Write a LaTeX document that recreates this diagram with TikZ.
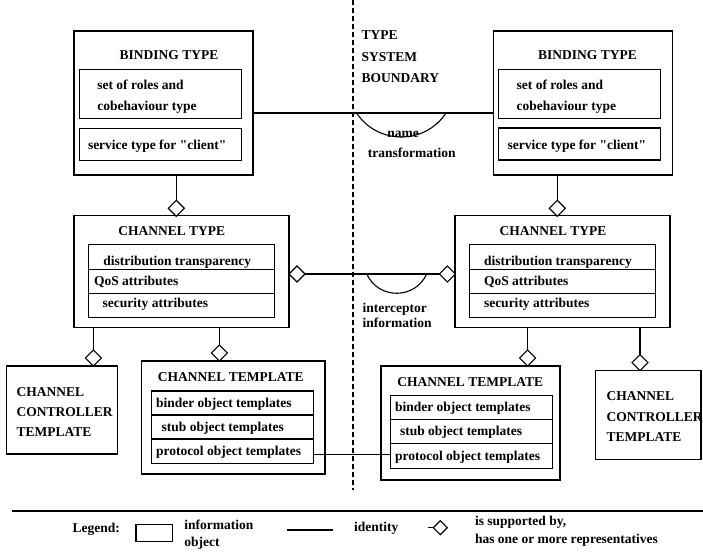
\documentclass[tikz,border=0pt]{standalone}
\usepackage{fontspec}
\setmainfont{Liberation Serif}
\usetikzlibrary{shapes.geometric}
\begin{document}
\begin{tikzpicture}[x=1pt,y=-1pt,
  every node/.style={inner sep=0pt, outer sep=0pt},
  box/.style={draw, line width=1.1pt, rectangle},
  txt/.style={font=\fontsize{13.5}{16}\selectfont\bfseries, anchor=west, text height=9pt, text depth=0pt},
  ctxt/.style={txt, anchor=center},
  dia/.style={draw, diamond, fill=white, line width=1.1pt, minimum width=16pt, minimum height=16pt},
  link/.style={line width=1.1pt},
  boundary/.style={line width=1.2pt, dash pattern=on 5pt off 3pt},
]
\useasboundingbox (0,0) rectangle (703,556);

% type system boundary
\coordinate (bndtop) at (353,0);
\coordinate (bndbot) at (353,490);
\draw[boundary] (bndtop) -- (bndbot);
\node[txt] (tsb1) at (361.7,35) {TYPE};
\node[txt] (tsb2) at (361.7,56.7) {SYSTEM};
\node[txt] (tsb3) at (361.7,78.3) {BOUNDARY};

% binding type left
\node[box, minimum width=179pt, minimum height=144pt] (bt1) at (163.5,103) {};
\node[ctxt] (bt1t) at (169,55) {BINDING TYPE};
\node[box, minimum width=162.4pt, minimum height=48.7pt] (bt1a) at (160.5,94.3) {};
\node[txt] (bt1a1) at (97.3,85) {set of roles and};
\node[txt] (bt1a2) at (97.3,106) {cobehaviour type};
\node[box, minimum width=162.4pt, minimum height=32.4pt] (bt1b) at (160.5,144.5) {};
\node[txt] (bt1b1) at (88,145) {service type for \textquotedbl client\textquotedbl};

% binding type right
\node[box, minimum width=179.7pt, minimum height=144pt] (bt2) at (582.9,103) {};
\node[ctxt] (bt2t) at (587.5,55) {BINDING TYPE};
\node[box, minimum width=162pt, minimum height=48.7pt] (bt2a) at (579.7,94.3) {};
\node[txt] (bt2a1) at (516.7,85) {set of roles and};
\node[txt] (bt2a2) at (516.7,106) {cobehaviour type};
\node[box, minimum width=162pt, minimum height=32pt] (bt2b) at (579.7,144) {};
\node[txt] (bt2b1) at (507.7,145) {service type for \textquotedbl client\textquotedbl};

% identity between binding types with name transformation
\coordinate (nty) at (0,113);
\draw[link] (bt1.east |- nty) -- (bt2.west |- nty);
\coordinate (nA) at (356.6,113);
\coordinate (nC) at (446,113);
\draw[link] (nA) .. controls (377.7,145) and (424.9,145) .. (nC);
\node[ctxt] (ntr1) at (403,133.3) {name};
\node[ctxt] (ntr2) at (411.7,152.7) {transformation};

% channel type left
\node[box, minimum width=215pt, minimum height=111.6pt] (ct1) at (181.5,271.5) {};
\node[ctxt] (ct1t) at (171.7,231) {CHANNEL TYPE};
\node[box, minimum width=186pt, minimum height=25pt] (ct1r1) at (181.3,256.8) {};
\node[box, minimum width=186pt, minimum height=24pt] (ct1r2) at (181.3,281.3) {};
\node[box, minimum width=186pt, minimum height=24pt] (ct1r3) at (181.3,305.3) {};
\node[txt] (ct1x1) at (103.3,260.7) {distribution transparency};
\node[txt] (ct1x2) at (94,281) {QoS attributes};
\node[txt] (ct1x3) at (102.7,302.7) {security attributes};

% channel type right
\node[box, minimum width=215pt, minimum height=111.6pt] (ct2) at (562.5,271.5) {};
\node[ctxt] (ct2t) at (553,231) {CHANNEL TYPE};
\node[box, minimum width=185.7pt, minimum height=25pt] (ct2r1) at (562.2,256.8) {};
\node[box, minimum width=185.7pt, minimum height=24pt] (ct2r2) at (562.2,281.3) {};
\node[box, minimum width=185.7pt, minimum height=24pt] (ct2r3) at (562.2,305.3) {};
\node[txt] (ct2x1) at (484,260.7) {distribution transparency};
\node[txt] (ct2x2) at (484,281) {QoS attributes};
\node[txt] (ct2x3) at (484,302.7) {security attributes};

% binding -> channel type
\node[dia] (d1) at (176.3,208.3) {};
\draw[link] (d1.north) -- (d1.north |- bt1.south);
\node[dia] (d2) at (557.3,208.3) {};
\draw[link] (d2.north) -- (d2.north |- bt2.south);

% channel types linked, interceptor information
\node[dia] (d3) at (297,274) {};
\node[dia] (d4) at (447.3,274) {};
\draw[link] (d3.east) -- (d4.west);
\coordinate (iA) at (366.7,274);
\coordinate (iC) at (426.7,274);
\draw[link] (iA) .. controls (378.45,299.7) and (414.95,299.7) .. (iC);
\node[txt] (int1) at (362.7,308.3) {interceptor};
\node[txt] (int2) at (362.7,323.3) {information};

% channel controller template left
\node[box, minimum width=111.3pt, minimum height=88pt] (cc1) at (61.7,410) {};
\node[txt] (cc1a) at (16.7,391.7) {CHANNEL};
\node[txt] (cc1b) at (16.7,411.7) {CONTROLLER};
\node[txt] (cc1c) at (16.7,431.7) {TEMPLATE};
\node[dia] (d5) at (93.3,358) {};
\draw[link] (d5.north) -- (d5.north |- ct1.south);

% channel template left
\node[box, minimum width=183.3pt, minimum height=113pt] (tp1) at (233.3,417.5) {};
\node[ctxt] (tp1t) at (230.8,376.7) {CHANNEL TEMPLATE};
\node[box, minimum width=161.6pt, minimum height=24pt] (tp1r1) at (232.5,403) {};
\node[box, minimum width=161.6pt, minimum height=24pt] (tp1r2) at (232.5,427) {};
\node[box, minimum width=161.6pt, minimum height=24.3pt] (tp1r3) at (232.5,451.2) {};
\node[txt] (tp1x1) at (156,402.7) {binder object templates};
\node[txt] (tp1x2) at (161.7,426.7) {stub object templates};
\node[txt] (tp1x3) at (156,450.7) {protocol object templates};
\node[dia] (d6) at (219.3,353) {};
\draw[link] (d6.north) -- (d6.north |- ct1.south);

% channel template right
\node[box, minimum width=179pt, minimum height=114pt] (tp2) at (470.5,423) {};
\node[ctxt] (tp2t) at (470.3,381.7) {CHANNEL TEMPLATE};
\node[box, minimum width=161.6pt, minimum height=24.3pt] (tp2r1) at (471.5,407.2) {};
\node[box, minimum width=161.6pt, minimum height=24pt] (tp2r2) at (471.5,431.3) {};
\node[box, minimum width=161.6pt, minimum height=25pt] (tp2r3) at (471.5,455.8) {};
\node[txt] (tp2x1) at (395,407.3) {binder object templates};
\node[txt] (tp2x2) at (400,430.7) {stub object templates};
\node[txt] (tp2x3) at (395,456) {protocol object templates};
\node[dia] (d7) at (527.7,358) {};
\draw[link] (d7.north) -- (d7.north |- ct2.south);

% channel controller template right
\node[box, minimum width=105.3pt, minimum height=88.3pt] (cc2) at (648.3,414.9) {};
\node[txt] (cc2a) at (606.5,396) {CHANNEL};
\node[txt] (cc2b) at (606.5,416.7) {CONTROLLER};
\node[txt] (cc2c) at (606.5,437.3) {TEMPLATE};
\node[dia] (d8) at (640,362.7) {};
\draw[link] (d8.north) -- (d8.north |- ct2.south);

% protocol identity
\coordinate (ply) at (0,454.5);
\draw[link] (tp1r3.east |- ply) -- (tp2r3.west |- ply);

% legend
\coordinate (sepL) at (12,511);
\coordinate (sepR) at (703,511);
\draw[line width=1.3pt] (sepL) -- (sepR);
\node[txt] (lg) at (72.7,527.7) {Legend:};
\node[box, minimum width=36.7pt, minimum height=17.4pt] (lgbox) at (154.3,533) {};
\node[txt] (lgi1) at (184.3,525) {information};
\node[txt] (lgi2) at (184.3,541.7) {object};
\coordinate (lgl1) at (287.3,530);
\coordinate (lgl2) at (333.3,530);
\draw[link] (lgl1) -- (lgl2);
\node[txt] (lgid) at (354,527) {identity};
\node[dia, minimum width=14pt, minimum height=14pt] (lgd) at (440.3,527.7) {};
\coordinate (lgdl) at (427.7,527.7);
\draw[link] (lgdl) -- (lgd.west);
\node[txt] (lgs1) at (475,520.7) {is supported by,};
\node[txt] (lgs2) at (475,539.3) {has one or more representatives};
\end{tikzpicture}
\end{document}
